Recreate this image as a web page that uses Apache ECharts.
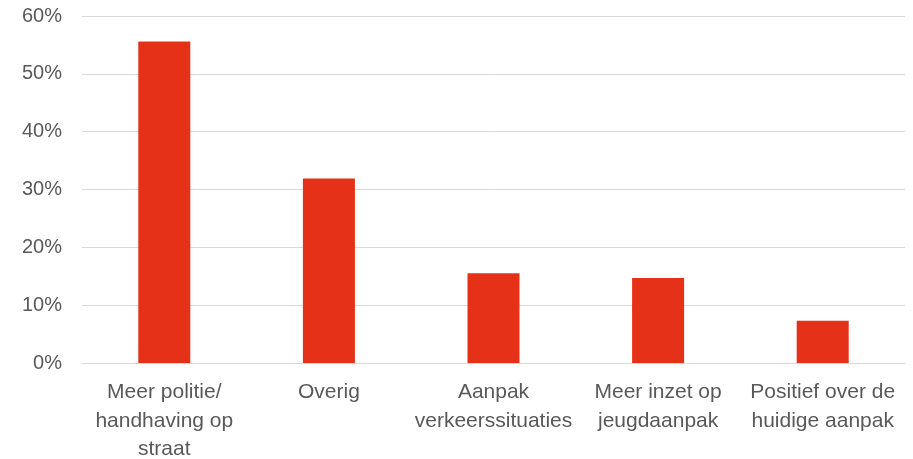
<!DOCTYPE html>
<html><head><meta charset="utf-8">
<script src="https://cdn.jsdelivr.net/npm/echarts@6/dist/echarts.min.js"></script>
<style>html,body{margin:0;padding:0;background:#fff}#c{width:913px;height:459px}</style>
</head><body><div id="c"></div>
<script>
const categories = ["Meer politie/\nhandhaving op\nstraat", "Overig", "Aanpak\nverkeerssituaties", "Meer inzet op\njeugdaanpak", "Positief over de\nhuidige aanpak"];
const values = [55.6, 31.9, 15.5, 14.7, 7.3];
const yTicks = [0, 10, 20, 30, 40, 50, 60];
const font = '"Liberation Sans", Arial, sans-serif';
const chart = echarts.init(document.getElementById('c'));
chart.setOption({
  animation: false,
  grid: {left: 82, right: 8, top: 16, bottom: 96, outerBoundsMode: 'none', containLabel: false},
  xAxis: {type: 'category', data: categories,
    axisLine: {show: true, lineStyle: {color: '#d9d9d9', width: 1}},
    axisTick: {show: false},
    axisLabel: {color: '#595959', fontSize: 21, fontFamily: font, lineHeight: 28.5, margin: 15, interval: 0}},
  yAxis: {type: 'value', min: yTicks[0], max: yTicks[yTicks.length-1], interval: 10,
    axisLine: {show: false}, axisTick: {show: false},
    splitLine: {lineStyle: {color: '#d9d9d9', width: 1}},
    axisLabel: {color: '#595959', fontSize: 20, fontFamily: font, margin: 20, formatter: v => v + '%'}},
  series: [{type: 'bar', data: values, barWidth: '31.6%',
    itemStyle: {color: '#e53117'}}]
});
</script></body></html>
